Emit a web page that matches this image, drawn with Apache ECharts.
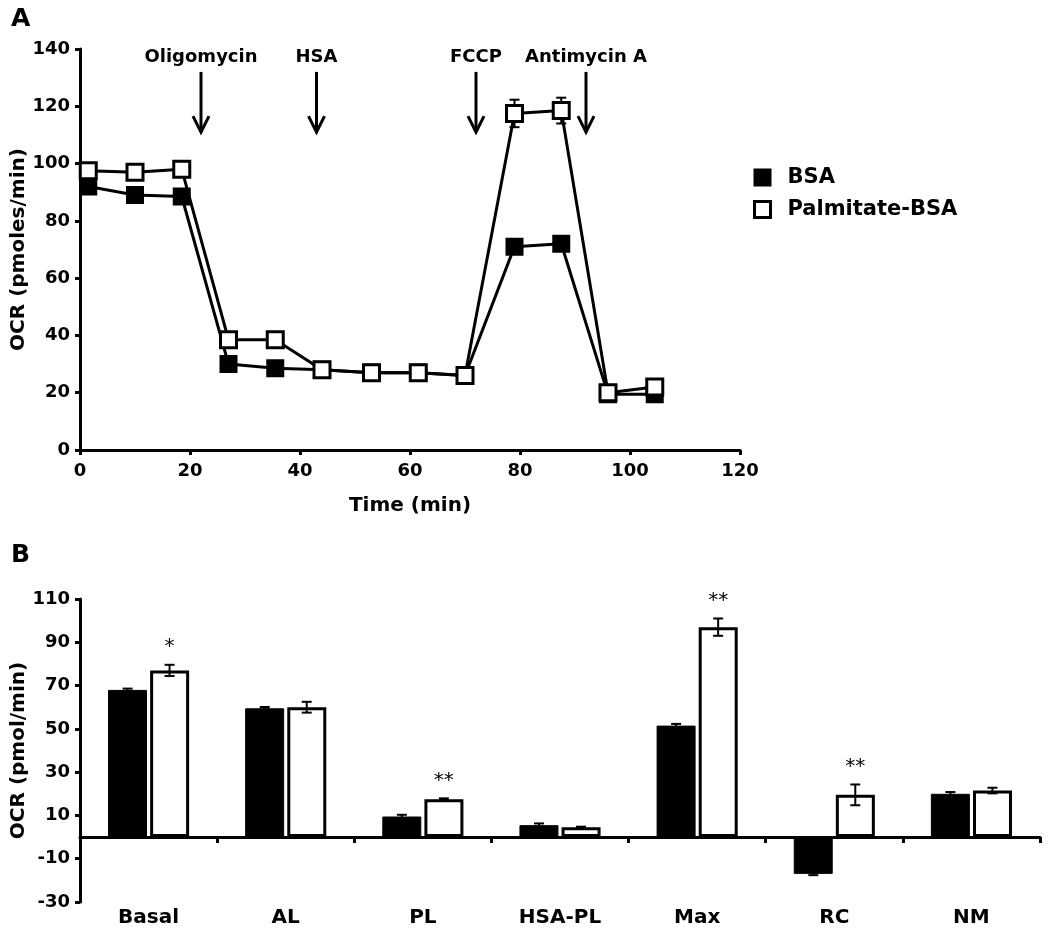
<!DOCTYPE html>
<html>
<head>
<meta charset="utf-8">
<script src="https://cdn.jsdelivr.net/npm/echarts@6/dist/echarts.min.js"></script>
<style>
html,body{margin:0;padding:0;background:#fff;}
#chart{width:1050px;height:939px;}
</style>
</head>
<body>
<div id="chart"></div>
<script>
// ---------- Panel A data ----------
const times = [1.5, 10, 18.5, 27, 35.5, 44, 53, 61.5, 70, 79, 87.5, 96, 104.5];
const bsaOCR = [92, 89, 88.5, 30, 28.5, 28, 27, 27, 26, 71, 72, 19.5, 19.5];
const palOCR = [97.5, 97, 98, 38.5, 38.5, 28, 27, 27, 26, 117.5, 118.5, 20, 22];
const bsaErr = [1, 1, 1, 1, 1, 1, 1, 1, 1, 1.5, 1.5, 1, 1];
const palErr = [1.5, 1.5, 1.5, 1.5, 1.5, 1, 1, 1, 1, 4.8, 4.5, 1, 1];
const injTimes = [22, 43, 72, 92];
const injLabels = ['Oligomycin', 'HSA', 'FCCP', 'Antimycin A'];
const arrowTop = 132, arrowBottom = 111;
const xTicksA = [0, 20, 40, 60, 80, 100, 120];
const yTicksA = [0, 20, 40, 60, 80, 100, 120, 140];

// ---------- Panel B data ----------
const params = ['Basal', 'AL', 'PL', 'HSA-PL', 'Max', 'RC', 'NM'];
const bsaB = [68, 59.5, 9.5, 5.5, 51.5, -17, 20];
const palB = [77, 60, 17.5, 4.5, 97, 19.5, 21.5];
const bsaBErr = [0.6, 0.6, 0.8, 0.8, 0.8, 0.6, 0.8];
const palBErr = [2.6, 2.5, 0.4, 0.3, 4, 4.8, 1.3];
const stars = ['*', '', '**', '', '**', '**', ''];

const FONT = 'DejaVu Sans';
const chart = echarts.init(document.getElementById('chart'), null, {renderer: 'canvas'});

function errRenderer(cap) {
  return function (params, api) {
    const x = api.value(0), v = api.value(1), e = api.value(2);
    const off = api.value(3) || 0;
    const p1 = api.coord([x, v + e]);
    const p2 = api.coord([x, v - e]);
    const px = p1[0] + off;
    const st = {stroke: '#000', lineWidth: 2};
    return {type: 'group', children: [
      {type: 'line', shape: {x1: px, y1: p1[1], x2: px, y2: p2[1]}, style: st},
      {type: 'line', shape: {x1: px - cap, y1: p1[1], x2: px + cap, y2: p1[1]}, style: st},
      {type: 'line', shape: {x1: px - cap, y1: p2[1], x2: px + cap, y2: p2[1]}, style: st}
    ]};
  };
}

const BAR_W = 39;
const BAR_OFF = 21;

const option = {
  animation: false,
  backgroundColor: '#fff',
  textStyle: {fontFamily: FONT},
  title: [
    {text: 'A', left: 6, top: 2, textStyle: {fontFamily: FONT, fontWeight: 'bold', fontSize: 25, color: '#000'}},
    {text: 'B', left: 6, top: 538, textStyle: {fontFamily: FONT, fontWeight: 'bold', fontSize: 25, color: '#000'}}
  ],
  legend: {
    orient: 'vertical',
    left: 748, top: 162,
    itemWidth: 16, itemHeight: 16, itemGap: 11,
    textStyle: {fontFamily: FONT, fontWeight: 'bold', fontSize: 21, color: '#000', padding: [0, 0, 0, 12]},
    data: [
      {name: 'BSA', icon: 'rect', itemStyle: {color: '#000', borderColor: '#000', borderWidth: 2}},
      {name: 'Palmitate-BSA', icon: 'rect', itemStyle: {color: '#fff', borderColor: '#000', borderWidth: 3}}
    ]
  },
  grid: [
    {left: 80, top: 49, width: 660, height: 401, outerBoundsMode: 'none', containLabel: false},
    {left: 80, top: 599, width: 960, height: 303, outerBoundsMode: 'none', containLabel: false}
  ],
  xAxis: [
    {
      type: 'value', gridIndex: 0, min: 0, max: 120, interval: 20,
      name: 'Time (min)', nameLocation: 'middle', nameGap: 46,
      nameTextStyle: {fontFamily: FONT, fontWeight: 'bold', fontSize: 20, color: '#000'},
      axisLine: {show: true, lineStyle: {color: '#000', width: 3}},
      axisTick: {show: true, length: 5, lineStyle: {color: '#000', width: 3}},
      axisLabel: {fontFamily: FONT, fontWeight: 'bold', fontSize: 18, color: '#000', margin: 12,
        formatter: v => xTicksA.includes(v) ? String(v) : ''},
      splitLine: {show: false}
    },
    {
      type: 'category', gridIndex: 1, data: params,
      axisLine: {show: true, onZero: true, lineStyle: {color: '#000', width: 3}},
      axisTick: {show: true, length: 6, lineStyle: {color: '#000', width: 3}},
      axisLabel: {show: false},
      splitLine: {show: false}
    },
    {
      type: 'category', gridIndex: 1, data: params, position: 'bottom',
      axisLine: {show: false, onZero: false},
      axisTick: {show: false},
      axisLabel: {fontFamily: FONT, fontWeight: 'bold', fontSize: 20, color: '#000', margin: 6},
      splitLine: {show: false}
    }
  ],
  yAxis: [
    {
      type: 'value', gridIndex: 0, min: 0, max: 140, interval: 20,
      name: 'OCR (pmoles/min)', nameLocation: 'middle', nameGap: 51, nameMoveOverlap: false,
      nameTextStyle: {fontFamily: FONT, fontWeight: 'bold', fontSize: 20, color: '#000'},
      axisLine: {show: true, lineStyle: {color: '#000', width: 3}},
      axisTick: {show: true, length: 5, lineStyle: {color: '#000', width: 3}},
      axisLabel: {fontFamily: FONT, fontWeight: 'bold', fontSize: 18, color: '#000', margin: 10,
        formatter: v => yTicksA.includes(v) ? String(v) : ''},
      splitLine: {show: false}
    },
    {
      type: 'value', gridIndex: 1, min: -30, max: 110, interval: 20,
      name: 'OCR (pmol/min)', nameLocation: 'middle', nameGap: 51, nameMoveOverlap: false,
      nameTextStyle: {fontFamily: FONT, fontWeight: 'bold', fontSize: 20, color: '#000'},
      axisLine: {show: true, onZero: false, lineStyle: {color: '#000', width: 3}},
      axisTick: {show: true, length: 5, lineStyle: {color: '#000', width: 3}},
      axisLabel: {fontFamily: FONT, fontWeight: 'bold', fontSize: 18, color: '#000', margin: 10},
      splitLine: {show: false}
    }
  ],
  series: [
    // injection arrows + labels
    {
      type: 'custom', xAxisIndex: 0, yAxisIndex: 0, z: 5, silent: true,
      data: injTimes.map((t, i) => [t, arrowTop, arrowBottom, i]),
      renderItem: function (params, api) {
        const t = api.value(0);
        const p1 = api.coord([t, api.value(1)]);
        const p2 = api.coord([t, api.value(2)]);
        const st = {stroke: '#000', lineWidth: 3};
        return {type: 'group', children: [
          {type: 'line', shape: {x1: p1[0], y1: p1[1], x2: p2[0], y2: p2[1]}, style: st},
          {type: 'polyline', shape: {points: [[p2[0] - 8, p2[1] - 16], [p2[0], p2[1]], [p2[0] + 8, p2[1] - 16]]}, style: {stroke: '#000', lineWidth: 3, fill: null}},
          {type: 'text', x: p1[0], y: p1[1] - 15, style: {text: injLabels[api.value(3)], font: 'bold 18px "DejaVu Sans"', fill: '#000', align: 'center', verticalAlign: 'middle'}}
        ]};
      }
    },
    // error bars panel A
    {
      type: 'custom', xAxisIndex: 0, yAxisIndex: 0, z: 1, silent: true,
      data: times.map((t, i) => [t, bsaOCR[i], bsaErr[i]]),
      renderItem: errRenderer(5)
    },
    {
      type: 'custom', xAxisIndex: 0, yAxisIndex: 0, z: 1, silent: true,
      data: times.map((t, i) => [t, palOCR[i], palErr[i]]),
      renderItem: errRenderer(5)
    },
    {
      name: 'BSA', type: 'line', xAxisIndex: 0, yAxisIndex: 0, z: 2,
      data: times.map((t, i) => [t, bsaOCR[i]]),
      symbol: 'rect', symbolSize: 16,
      lineStyle: {color: '#000', width: 3},
      itemStyle: {color: '#000', borderColor: '#000', borderWidth: 2}
    },
    {
      name: 'Palmitate-BSA', type: 'line', xAxisIndex: 0, yAxisIndex: 0, z: 3,
      data: times.map((t, i) => [t, palOCR[i]]),
      symbol: 'rect', symbolSize: 16,
      lineStyle: {color: '#000', width: 3},
      itemStyle: {color: '#fff', borderColor: '#000', borderWidth: 3}
    },
    // panel B bars
    {
      name: 'BSA_B', type: 'bar', xAxisIndex: 1, yAxisIndex: 1, z: 2,
      data: bsaB, barWidth: BAR_W, barGap: '8%',
      itemStyle: {color: '#000', borderColor: '#000', borderWidth: 1}
    },
    {
      name: 'Pal_B', type: 'bar', xAxisIndex: 1, yAxisIndex: 1, z: 2,
      data: palB, barWidth: BAR_W, barGap: '8%',
      itemStyle: {color: '#fff', borderColor: '#000', borderWidth: 3}
    },
    {
      type: 'custom', xAxisIndex: 1, yAxisIndex: 1, z: 4, silent: true,
      data: params.map((c, i) => [i, bsaB[i], bsaBErr[i], -BAR_OFF]),
      renderItem: errRenderer(5)
    },
    {
      type: 'custom', xAxisIndex: 1, yAxisIndex: 1, z: 4, silent: true,
      data: params.map((c, i) => [i, palB[i], palBErr[i], BAR_OFF]),
      renderItem: errRenderer(5)
    },
    // significance stars
    {
      type: 'custom', xAxisIndex: 1, yAxisIndex: 1, z: 5, silent: true,
      data: params.map((c, i) => [i, palB[i] + palBErr[i], i]),
      renderItem: function (params, api) {
        const p = api.coord([api.value(0), api.value(1)]);
        return {type: 'text', x: p[0] + BAR_OFF, y: p[1] - 8,
          style: {text: stars[api.value(2)], font: '20px "DejaVu Sans"', fill: '#000', align: 'center', verticalAlign: 'bottom'}};
      }
    }
  ]
};
chart.setOption(option);
</script>
</body>
</html>
